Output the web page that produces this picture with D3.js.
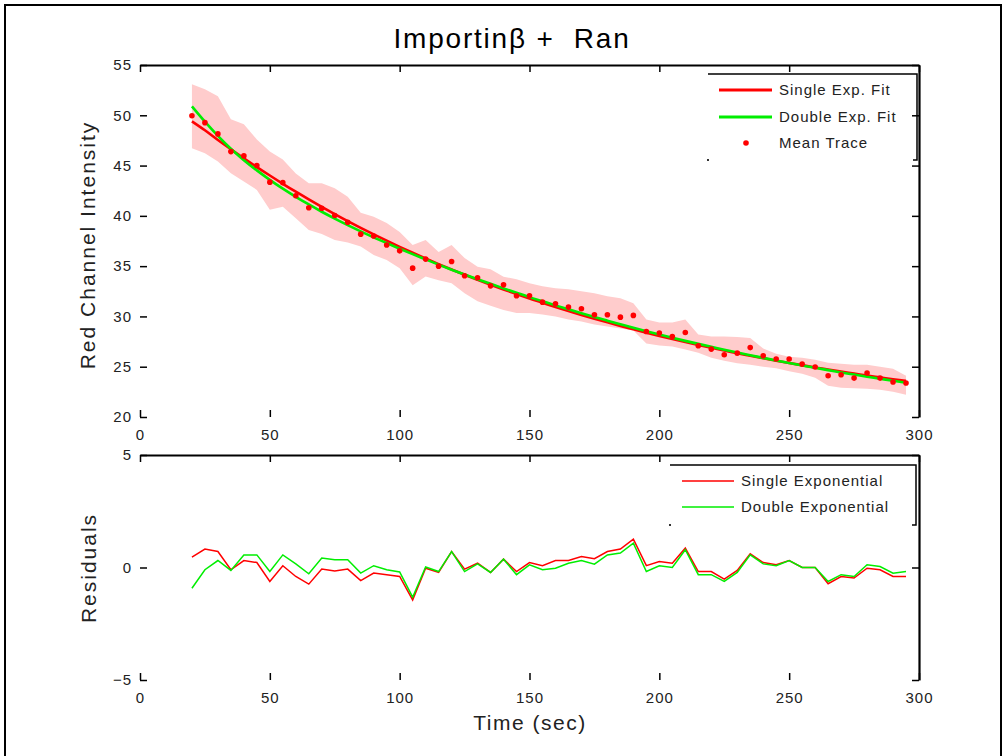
<!DOCTYPE html>
<html><head><meta charset="utf-8">
<script src="https://cdn.jsdelivr.net/npm/d3@7"></script>
<style>body{margin:0;background:#fff}svg{display:block}</style>
</head><body><svg id="c" width="1006" height="756"></svg>
<script>
const times = [20,25,30,35,40,45,50,55,60,65,70,75,80,85,90,95,100,105,110,115,120,125,130,135,140,145,
  150,155,160,165,170,175,180,185,190,195,200,205,210,215,220,225,230,235,240,245,250,255,260,265,270,275,280,285,290,295];
const meanTrace = [49.96,49.27,48.15,46.39,45.96,45.0,43.35,43.3,42.0,40.8,40.76,40.03,39.37,38.18,38.0,37.1,36.52,34.8,35.7,35.0,
  35.46,34.04,33.84,33.04,33.14,32.05,32.05,31.42,31.25,30.93,30.76,30.16,30.16,29.93,30.1,28.5,28.35,28.0,28.4,27.08,
  26.75,26.19,26.35,26.9,26.09,25.76,25.76,25.26,24.97,24.1,24.2,23.87,24.37,23.87,23.48,23.38];
const singleFit = [49.40,48.51,47.55,46.62,45.72,44.85,44.01,43.19,42.40,41.64,40.90,40.18,39.48,38.81,38.16,37.53,36.92,36.33,35.76,35.20,
  34.66,34.14,33.64,33.15,32.68,32.23,31.78,31.36,30.94,30.54,30.15,29.77,29.41,29.06,28.72,28.38,28.06,27.75,27.45,27.16,
  26.88,26.61,26.34,26.09,25.84,25.60,25.37,25.15,24.93,24.72,24.51,24.32,24.12,23.94,23.76,23.59];
const doubleFit = [50.88,49.36,47.95,46.67,45.54,44.52,43.58,42.70,41.89,41.13,40.41,39.73,39.08,38.46,37.86,37.29,36.73,36.19,35.67,35.15,
  34.65,34.17,33.70,33.24,32.79,32.36,31.92,31.51,31.10,30.71,30.32,29.94,29.58,29.23,28.88,28.53,28.20,27.88,27.57,27.27,
  26.98,26.69,26.41,26.14,25.88,25.62,25.37,25.13,24.89,24.66,24.43,24.22,24.00,23.80,23.60,23.41];
const bandUpper = [53.08,52.6,51.9,49.6,49.1,47.6,46.4,45.6,44.2,43.25,43.25,42.75,41.9,40.3,39.9,39.3,38.4,37.1,37.6,36.4,
  37.1,35.8,34.95,34.7,33.95,33.7,33.3,33.0,32.8,32.7,32.5,32.3,32.0,31.8,31.3,29.7,29.4,29.4,29.7,28.2,
  28.0,28.0,27.95,27.85,26.8,26.3,26.0,25.9,25.7,25.4,25.3,25.2,25.2,25.0,24.8,24.1];
const bandLower = [46.72,46.23,45.4,44.24,43.41,42.58,40.6,40.9,39.77,38.6,38.2,37.6,37.35,36.95,36.1,35.6,34.8,33.1,33.97,33.6,
  33.3,32.3,31.5,31.05,30.65,30.33,30.35,30.2,30.0,29.7,29.5,29.2,29.0,28.8,28.6,27.3,27.1,27.0,26.7,26.4,
  25.9,25.6,25.35,25.2,25.0,24.85,24.55,24.3,23.9,23.1,22.9,22.85,22.8,22.7,22.5,22.2];
const residSingle = [0.46,0.82,0.71,-0.10,0.31,0.22,-0.62,0.08,-0.40,-0.74,-0.07,-0.15,-0.07,-0.58,-0.25,-0.32,-0.40,-1.44,-0.03,-0.22,
  0.71,-0.07,0.19,-0.22,0.37,-0.18,0.22,0.08,0.31,0.31,0.49,0.39,0.71,0.82,1.26,0.08,0.27,0.19,0.86,-0.18,
  -0.18,-0.52,-0.13,0.61,0.22,0.12,0.31,0.00,0.00,-0.72,-0.40,-0.47,-0.03,-0.10,-0.40,-0.40];
const residDouble = [-0.92,-0.10,0.31,-0.13,0.56,0.56,-0.18,0.56,0.16,-0.28,0.42,0.34,0.34,-0.25,0.08,-0.10,-0.20,-1.32,0.02,-0.18,
  0.71,-0.18,0.16,-0.22,0.37,-0.32,0.12,-0.10,-0.03,0.19,0.31,0.15,0.56,0.64,1.08,-0.18,0.08,0.00,0.79,-0.32,
  -0.32,-0.62,-0.22,0.56,0.16,0.08,0.31,0.00,0.00,-0.62,-0.32,-0.40,0.12,0.04,-0.25,-0.18];
const xTicks = [0,50,100,150,200,250,300];
const yTopTicks = [20,25,30,35,40,45,50,55];
const yResTicks = [-5,0,5];
const titleText = "Importin\u03B2 +  Ran";
const topLegend = ["Single Exp. Fit","Double Exp. Fit","Mean Trace"];
const resLegend = ["Single Exponential","Double Exponential"];

const RED = "#ff0000", GREEN = "#00ee00", BAND = "#ffcccc";
const FONT = "'Liberation Sans', Arial, sans-serif";

const svg = d3.select("#c");
svg.append("rect").attr("width",1006).attr("height",756).attr("fill","#fff");
svg.append("path").attr("d","M5,760 V5 H1001 V760").attr("fill","none").attr("stroke","#000").attr("stroke-width",2);

const x = d3.scaleLinear().domain([0,300]).range([140,919]);
const yTop = d3.scaleLinear().domain([20,55]).range([417,65]);
const yRes = d3.scaleLinear().domain([-5,5]).range([680,455]);

const rows = times.map((t,i)=>({t, m:meanTrace[i], s:singleFit[i], d:doubleFit[i], hi:bandUpper[i], lo:bandLower[i], rs:residSingle[i], rd:residDouble[i]}));

function axes(y, yTicks){
  const g = svg.append("g");
  const [yb, yt] = y.range();
  const styleTicks = sel => {
    sel.selectAll(".tick line").attr("stroke","#000").attr("stroke-width",1.5);
    sel.selectAll("text").attr("font-family",FONT).attr("font-size",15).attr("letter-spacing",1).attr("fill","#222");
  };
  const l = g.append("g").attr("transform","translate(140,0)")
    .call(d3.axisLeft(y).tickValues(yTicks).tickSize(-7).tickPadding(8).tickFormat(d3.format("d")));
  l.select(".domain").remove(); styleTicks(l);
  const b = g.append("g").attr("transform",`translate(0,${yb})`)
    .call(d3.axisBottom(x).tickValues(xTicks).tickSize(-7).tickPadding(12).tickFormat(d3.format("d")));
  b.select(".domain").remove(); styleTicks(b);
  const t = g.append("g").attr("transform",`translate(0,${yt})`)
    .call(d3.axisTop(x).tickValues(xTicks).tickSize(-7).tickSizeOuter(0).tickFormat(""));
  t.select(".domain").attr("stroke","#000").attr("stroke-width",2.2); styleTicks(t);
  const r = g.append("g").attr("transform",`translate(919,0)`)
    .call(d3.axisRight(y).tickValues(yTicks).tickSize(-7).tickSizeOuter(0).tickFormat(""));
  r.select(".domain").attr("stroke","#000").attr("stroke-width",2.2); styleTicks(r);
}

// ---------- top panel ----------
svg.append("path").datum(rows).attr("fill",BAND)
  .attr("d", d3.area().x(d=>x(d.t)).y0(d=>yTop(d.lo)).y1(d=>yTop(d.hi)));
svg.append("path").datum(rows).attr("fill","none").attr("stroke",RED).attr("stroke-width",2.6)
  .attr("d", d3.line().x(d=>x(d.t)).y(d=>yTop(d.s)).curve(d3.curveMonotoneX));
svg.append("path").datum(rows).attr("fill","none").attr("stroke",GREEN).attr("stroke-width",2.6)
  .attr("d", d3.line().x(d=>x(d.t)).y(d=>yTop(d.d)).curve(d3.curveMonotoneX));
svg.append("g").selectAll("circle").data(rows).join("circle")
  .attr("cx",d=>x(d.t)).attr("cy",d=>yTop(d.m)).attr("r",2.8).attr("fill",RED);
axes(yTop, yTopTicks);

// ---------- residual panel ----------
svg.append("path").datum(rows).attr("fill","none").attr("stroke",RED).attr("stroke-width",1.5)
  .attr("d", d3.line().x(d=>x(d.t)).y(d=>yRes(d.rs)));
svg.append("path").datum(rows).attr("fill","none").attr("stroke",GREEN).attr("stroke-width",1.5)
  .attr("d", d3.line().x(d=>x(d.t)).y(d=>yRes(d.rd)));
axes(yRes, yResTicks);

// ---------- titles ----------
svg.append("text").attr("x",512).attr("y",48).attr("text-anchor","middle")
  .attr("font-family",FONT).attr("font-size",28).attr("letter-spacing",1.8).attr("fill","#000")
  .style("white-space","pre").text(titleText);
svg.append("text").attr("transform","translate(95,245) rotate(-90)").attr("text-anchor","middle")
  .attr("font-family",FONT).attr("font-size",21).attr("letter-spacing",2).attr("fill","#222").text("Red Channel Intensity");
svg.append("text").attr("transform","translate(96,568) rotate(-90)").attr("text-anchor","middle")
  .attr("font-family",FONT).attr("font-size",21).attr("letter-spacing",2).attr("fill","#222").text("Residuals");
svg.append("text").attr("x",530).attr("y",730).attr("text-anchor","middle")
  .attr("font-family",FONT).attr("font-size",21).attr("letter-spacing",1.5).attr("fill","#222").text("Time (sec)");

// ---------- legends ----------
function legendFrame(x0,y0,x1,y1){
  svg.append("path").attr("d",`M${x0},${y0} H${x1} V${y1} H${x1-4}`).attr("fill","none").attr("stroke","#000").attr("stroke-width",1.5);
  svg.append("rect").attr("x",x0-1).attr("y",y1-1).attr("width",2).attr("height",2).attr("fill","#333");
}
legendFrame(708,74,917,160);
const tl = svg.append("g");
[[RED,90],[GREEN,117]].forEach(([c,yy])=>{
  tl.append("line").attr("x1",719).attr("x2",772).attr("y1",yy).attr("y2",yy).attr("stroke",c).attr("stroke-width",3);
});
tl.append("circle").attr("cx",746).attr("cy",143).attr("r",2.8).attr("fill",RED);
topLegend.forEach((s,i)=>{
  tl.append("text").attr("x",779).attr("y",[90,117,143][i]).attr("dy","0.36em")
    .attr("font-family",FONT).attr("font-size",15).attr("letter-spacing",1).attr("fill","#222").text(s);
});
legendFrame(670,465,916,525);
const rl = svg.append("g");
[[RED,481],[GREEN,507]].forEach(([c,yy],i)=>{
  rl.append("line").attr("x1",682).attr("x2",734).attr("y1",yy).attr("y2",yy).attr("stroke",c).attr("stroke-width",1.5);
  rl.append("text").attr("x",741).attr("y",yy).attr("dy","0.36em")
    .attr("font-family",FONT).attr("font-size",15).attr("letter-spacing",1).attr("fill","#222").text(resLegend[i]);
});
</script></body></html>
